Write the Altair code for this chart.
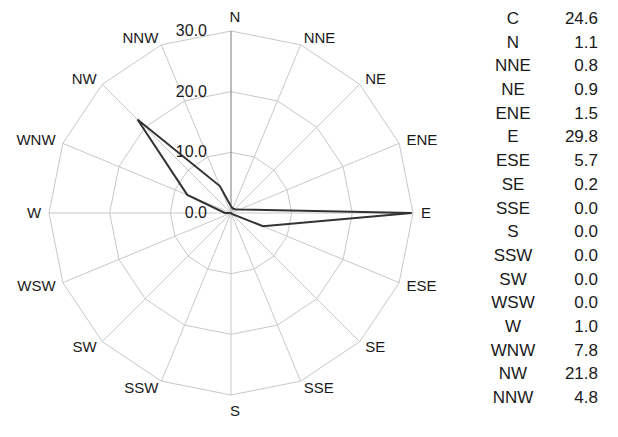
import altair as alt
import pandas as pd
import numpy as np

# ---- data ----
directions = ["N", "NNE", "NE", "ENE", "E", "ESE", "SE", "SSE",
              "S", "SSW", "SW", "WSW", "W", "WNW", "NW", "NNW"]
values = [1.1, 0.8, 0.9, 1.5, 29.8, 5.7, 0.2, 0.0,
          0.0, 0.0, 0.0, 0.0, 1.0, 7.8, 21.8, 4.8]
calm_label = "C"
calm_value = 24.6
ring_levels = [10, 20, 30]
tick_values = [0, 10, 20, 30]
tick_labels = ["0.0", "10.0", "20.0", "30.0"]
r_max = 30

FONT = "Liberation Sans"
TXT = "#1a1a1a"

angles = np.deg2rad(np.arange(len(directions)) * 360.0 / len(directions))
ang_closed = np.append(angles, angles[0])

# series polygon (closed)
poly = pd.DataFrame({
    "dir": directions + [directions[0]],
    "value": values + [values[0]],
    "order": list(range(len(directions) + 1)),
})
poly["x"] = poly["value"] * np.sin(ang_closed)
poly["y"] = poly["value"] * np.cos(ang_closed)

# grid rings
ring_rows = []
for lv in ring_levels:
    for k, a in enumerate(ang_closed):
        ring_rows.append({"level": lv, "order": k,
                          "x": lv * np.sin(a), "y": lv * np.cos(a)})
rings = pd.DataFrame(ring_rows)

# spokes
spokes = pd.DataFrame({
    "dir": directions,
    "x0": 0.0, "y0": 0.0,
    "x": r_max * np.sin(angles),
    "y": r_max * np.cos(angles),
})

# direction labels: side labels anchored just outside the rim, N/S centred
sin_a = np.sin(angles)
side = np.where(sin_a > 0.1, "right", np.where(sin_a < -0.1, "left", "mid"))
lab_r = np.where(side == "mid", 32.4, 31.3)
dir_labels = pd.DataFrame({
    "dir": directions,
    "side": side,
    "x": lab_r * np.sin(angles),
    "y": lab_r * np.cos(angles),
})

# radial tick labels
ticks = pd.DataFrame({"v": tick_values, "label": tick_labels, "x": 0.0})

# side table
table = pd.DataFrame({
    "name": [calm_label] + directions,
    "val": [f"{calm_value:.1f}"] + [f"{v:.1f}" for v in values],
    "row": list(range(len(directions) + 1)),
})

xs = alt.Scale(domain=[-r_max, r_max], nice=False, zero=False)
ys = alt.Scale(domain=[-r_max, r_max], nice=False, zero=False)
X = lambda f: alt.X(f, scale=xs, axis=None)
Y = lambda f: alt.Y(f, scale=ys, axis=None)

ring_layer = alt.Chart(rings).mark_line(color="#c8c8c8", strokeWidth=1).encode(
    x=X("x:Q"), y=Y("y:Q"), detail="level:N", order="order:Q",
)

spoke_layer = alt.Chart(spokes).mark_rule(strokeWidth=1).encode(
    x=X("x0:Q"), y=Y("y0:Q"), x2="x:Q", y2="y:Q",
    color=alt.condition(alt.datum.dir == "N", alt.value("#7a7a7a"), alt.value("#c8c8c8")),
)

tick_layer = alt.Chart(ticks).mark_text(
    align="right", baseline="middle", dx=-24, fontSize=16, font=FONT, color=TXT
).encode(x=X("x:Q"), y=Y("v:Q"), text="label:N")

series_layer = alt.Chart(poly).mark_line(color="#333333", strokeWidth=2).encode(
    x=X("x:Q"), y=Y("y:Q"), order="order:Q",
)

def dir_text(which, align, dx=0, dy=0):
    return alt.Chart(dir_labels).transform_filter(
        alt.datum.side == which
    ).mark_text(
        align=align, baseline="middle", dx=dx, dy=dy, fontSize=15, font=FONT, color=TXT
    ).encode(x=X("x:Q"), y=Y("y:Q"), text="dir:N")

label_layers = [dir_text("right", "left"), dir_text("left", "right"),
                dir_text("mid", "center", 4, 1)]

row_scale = alt.Scale(type="point", range=[-12, 367], padding=0)

table_names = alt.Chart(table).mark_text(
    align="center", baseline="middle", fontSize=17, font=FONT, color=TXT
).encode(
    x=alt.value(464),
    y=alt.Y("row:O", scale=row_scale, axis=None),
    text="name:N",
)

table_vals = alt.Chart(table).mark_text(
    align="right", baseline="middle", fontSize=17, font=FONT, color=TXT
).encode(
    x=alt.value(549),
    y=alt.Y("row:O", scale=row_scale, axis=None),
    text="val:N",
)

radar = alt.layer(ring_layer, spoke_layer, tick_layer, series_layer, *label_layers)
tbl = alt.layer(table_names, table_vals)

chart = alt.layer(radar, tbl).resolve_scale(x="independent", y="independent").properties(
    width=364,
    height=364,
    background="white",
    autosize=alt.AutoSizeParams(type="none"),
    padding={"left": 41, "top": 23, "right": 197, "bottom": 34},
).configure_view(stroke=None)

chart.save("out.html", embed_options={"renderer": "svg", "actions": False})
